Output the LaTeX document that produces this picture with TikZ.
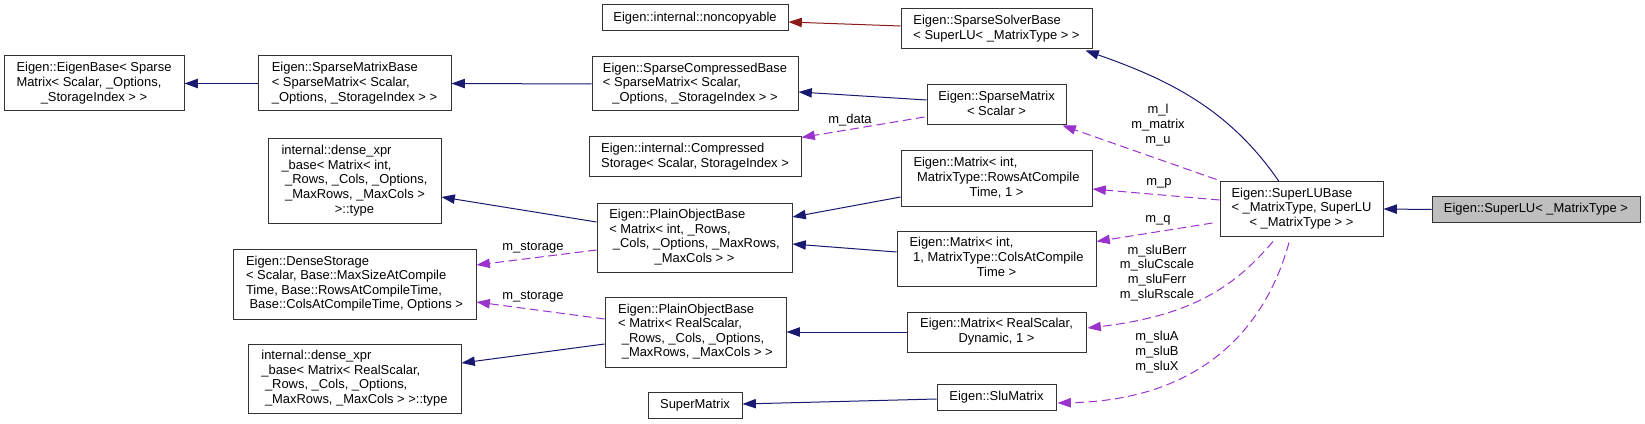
\documentclass[tikz,border=0pt]{standalone}
\usepackage{fontspec}
\setmainfont{Liberation Sans}
\usetikzlibrary{arrows.meta,calc}
\definecolor{edgeblue}{HTML}{191970}
\definecolor{edgered}{HTML}{8B1A1A}
\definecolor{edgepurple}{HTML}{9A32CD}
\definecolor{boxline}{HTML}{333333}
\definecolor{hlfill}{HTML}{BFBFBF}
\newcommand\tl[1]{\begin{tabular}{@{}l@{}}#1\end{tabular}}
\newcommand\lc[1]{\multicolumn{1}{@{}c@{}}{#1}}
\newcommand\bx[7][]{%
  \pgfmathsetmacro\bxw{(#5-#3)*0.75}%
  \pgfmathsetmacro\bxh{(#6-#4)*0.75}%
  \node[classbox,#1,minimum width=\bxw pt,minimum height=\bxh pt] (#2) at ({(#3+#5)/2},{(#4+#6)/2}) {#7};}
\begin{document}
\begin{tikzpicture}[x=0.75pt,y=-0.75pt,
  classbox/.style={draw=boxline,line width=0.75pt,fill=white,inner sep=0pt,font=\fontsize{9.7}{10.95}\selectfont},
  hl/.style={fill=hlfill},
  inh/.style={draw=edgeblue,line width=0.75pt,-{Triangle[length=10pt,width=7pt]}},
  priv/.style={draw=edgered,line width=0.75pt,-{Triangle[length=10pt,width=7pt]}},
  use/.style={draw=edgepurple,line width=0.75pt,dash pattern=on 6.5pt off 3.5pt,-{Triangle[length=10pt,width=7pt]}},
  lbl/.style={inner sep=0pt,align=center,font=\fontsize{9.7}{11.2}\selectfont}]
\useasboundingbox (0,0) rectangle (1645,424);
% boxes
\bx{eb}{4}{56}{184}{111}{\tl{Eigen::EigenBase< Sparse\\Matrix< Scalar, \_Options,\\\lc{\_StorageIndex > >}}}
\bx{smb}{258}{56}{451}{111}{\tl{Eigen::SparseMatrixBase\\< SparseMatrix< Scalar,\\\lc{\_Options, \_StorageIndex > >}}}
\bx{nc}{602}{5}{788}{31}{Eigen::internal::noncopyable}
\bx{ssb}{901}{9}{1092}{49}{\tl{Eigen::SparseSolverBase\\\lc{< SuperLU< \_MatrixType > >}}}
\bx{scb}{592}{57}{798}{111}{\tl{Eigen::SparseCompressedBase\\< SparseMatrix< Scalar,\\\lc{\_Options, \_StorageIndex > >}}}
\bx{sm}{927}{85}{1066}{125}{\tl{Eigen::SparseMatrix\\\lc{< Scalar >}}}
\bx{cs}{589}{137}{801}{177}{\tl{Eigen::internal::Compressed\\\lc{Storage< Scalar, StorageIndex >}}}
\bx{mir}{901}{151}{1092}{206}{\tl{Eigen::Matrix< int,\\\ MatrixType::RowsAtCompile\\\lc{Time, 1 >}}}
\bx{dxi}{268}{139}{441}{223}{\tl{internal::dense\_xpr\\\_base< Matrix< int,\\\ \_Rows, \_Cols, \_Options,\\\ \_MaxRows, \_MaxCols >\\\lc{>::type}}}
\bx{poi}{597}{203}{792}{272}{\tl{Eigen::PlainObjectBase\\< Matrix< int, \_Rows,\\\ \_Cols, \_Options, \_MaxRows,\\\lc{\_MaxCols > >}}}
\bx{ds}{233}{249}{476}{319}{\tl{Eigen::DenseStorage\\< Scalar, Base::MaxSizeAtCompile\\Time, Base::RowsAtCompileTime,\\\lc{\ Base::ColsAtCompileTime, Options >}}}
\bx{mic}{897}{231}{1096}{286}{\tl{Eigen::Matrix< int,\\\ 1, MatrixType::ColsAtCompile\\\lc{Time >}}}
\bx{slub}{1220}{182}{1383}{236}{\tl{Eigen::SuperLUBase\\< \_MatrixType, SuperLU\\\lc{< \_MatrixType > >}}}
\bx[hl]{superlu}{1432}{197}{1640}{222}{Eigen::SuperLU< \_MatrixType >}
\bx{por}{605}{297}{786}{367}{\tl{Eigen::PlainObjectBase\\< Matrix< RealScalar,\\\ \_Rows, \_Cols, \_Options,\\\lc{\ \_MaxRows, \_MaxCols > >}}}
\bx{mrs}{907}{312}{1086}{352}{\tl{Eigen::Matrix< RealScalar,\\\lc{Dynamic, 1 >}}}
\bx{dxr}{248}{344}{461}{413}{\tl{internal::dense\_xpr\\\_base< Matrix< RealScalar,\\\ \_Rows, \_Cols, \_Options,\\\lc{\ \_MaxRows, \_MaxCols > >::type}}}
\bx{sup}{648}{392}{742}{418}{SuperMatrix}
\bx{slu}{937}{384}{1056}{410}{Eigen::SluMatrix}
% inheritance edges
\draw[inh] (smb.west) -- (eb.east);
\draw[inh] (scb.west) -- (smb.east);
\draw[inh] ($(sm.west)+(0,-5)$) -- ($(scb.east)+(0,8)$);
\draw[priv] ($(ssb.west)+(0,-3)$) -- ($(nc.east)+(0,4)$);
\draw[inh] ($(mir.west)+(0,18.5)$) -- ($(poi.east)+(0,-20.5)$);
\draw[inh] ($(mic.west)+(0,-6.5)$) -- ($(poi.east)+(0,6.5)$);
\draw[inh] ($(poi.west)+(0,-15.5)$) -- ($(dxi.east)+(0,16)$);
\draw[inh] ($(por.west)+(0,12)$) -- ($(dxr.east)+(0,-15.5)$);
\draw[inh] (mrs.west) -- (por.east);
\draw[inh] ($(slu.west)+(0,2)$) -- ($(sup.east)+(0,-1)$);
\draw[inh] (superlu.west) -- (slub.east);
\draw[inh] ($(slub.north)+(-22.5,0)$) .. controls (1230,110) and (1170,80) .. ($(ssb.south east)+(-7,1)$);
% usage edges
\draw[use] ($(sm.west)+(-2,12)$) -- ($(cs.north east)+(0,1)$);
\node[lbl] (lmdata) at (850,120) {m\_data};
\draw[use] ($(poi.west)+(0,12.5)$) -- ($(ds.east)+(0,-19)$);
\node[lbl] (lms1) at (533,248) {m\_storage};
\draw[use] ($(por.west)+(0,-13)$) -- ($(ds.east)+(0,18)$);
\node[lbl] (lms2) at (533,297) {m\_storage};
\draw[use] ($(slub.north west)+(-3,-2)$) -- ($(sm.south east)+(-4,0)$);
\node[lbl] (lml) at (1158,125) {m\_l\\m\_matrix\\m\_u};
\draw[use] ($(slub.west)+(0,-9)$) -- ($(mir.east)+(0,10.5)$);
\node[lbl] (lmp) at (1159,183) {m\_p};
\draw[use] ($(slub.west)+(-7,14)$) -- ($(mic.east)+(0,-17)$);
\node[lbl] (lmq) at (1158,220) {m\_q};
\draw[use] ($(slub.south)+(-28.5,5)$) .. controls (1240,280) and (1200,315) .. ($(mrs.east)+(1,-4)$);
\node[lbl] (lmslu1) at (1157,273) {m\_sluBerr\\m\_sluCscale\\m\_sluFerr\\m\_sluRscale};
\draw[use] ($(slub.south)+(-12.5,6)$) .. controls (1265,330) and (1200,400) .. ($(slu.east)+(1,6)$);
\node[lbl] (lmslu2) at (1157,352) {m\_sluA\\m\_sluB\\m\_sluX};
\end{tikzpicture}
\end{document}
